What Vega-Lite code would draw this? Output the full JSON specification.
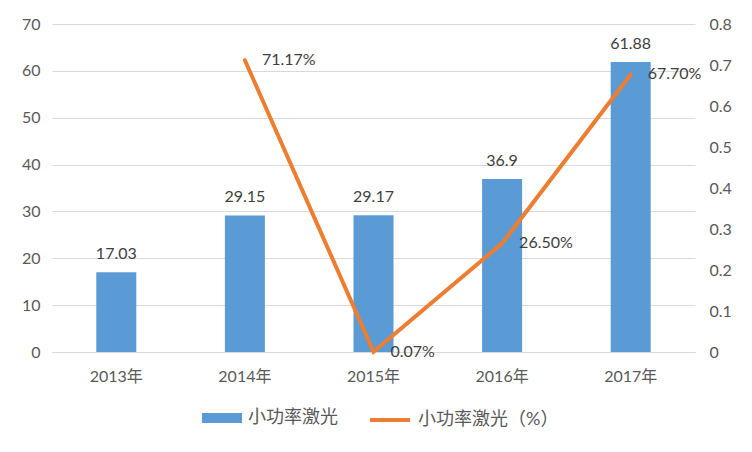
{
  "$schema": "https://vega.github.io/schema/vega-lite/v6.json",
  "autosize": "none",
  "width": 643,
  "height": 328,
  "padding": {"left": 52, "top": 24, "right": 57, "bottom": 100},
  "background": "white",
  "config": {
    "font": "Lato, 'Noto Sans CJK SC'",
    "view": {"stroke": null},
    "axis": {"labelFont": "Lato, 'Noto Sans CJK SC'", "labelFontSize": 16, "labelColor": "#595959", "ticks": false, "domain": false, "title": null},
    "legend": {"labelFont": "Lato, 'Noto Sans CJK SC'", "labelFontSize": 18, "labelColor": "#595959", "padding": 0}
  },
  "data": {
    "values": [
      {"year": "2013年", "value": 17.03, "pct": null},
      {"year": "2014年", "value": 29.15, "pct": 0.7117},
      {"year": "2015年", "value": 29.17, "pct": 0.0007},
      {"year": "2016年", "value": 36.9, "pct": 0.265},
      {"year": "2017年", "value": 61.88, "pct": 0.677}
    ]
  },
  "encoding": {
    "x": {
      "field": "year", "type": "nominal", "sort": null,
      "scale": {"paddingInner": 0, "paddingOuter": 0},
      "axis": {"labelAngle": 0, "domain": true, "domainColor": "#d9d9d9", "domainWidth": 1, "labelPadding": 16}
    }
  },
  "layer": [
    {
      "encoding": {
        "y": {
          "field": "value", "type": "quantitative",
          "scale": {"domain": [0, 70]},
          "axis": {"orient": "left", "values": [0, 10, 20, 30, 40, 50, 60, 70], "grid": true, "gridColor": "#d9d9d9", "gridWidth": 1, "labelPadding": 12}
        }
      },
      "layer": [
        {
          "mark": {"type": "bar", "size": 40},
          "encoding": {
            "fill": {
              "datum": "小功率激光",
              "scale": {"range": ["#5b9bd5"]},
              "legend": {
                "title": null, "orient": "none", "legendX": 150, "legendY": 374,
                "symbolType": "M-1,-0.25H1V0.25H-1Z", "symbolSize": 1600, "symbolStrokeWidth": 0, "labelOffset": 6
              }
            }
          }
        },
        {
          "mark": {"type": "text", "baseline": "bottom", "dy": -10, "fontSize": 16, "color": "#404040"},
          "encoding": {"text": {"field": "value", "type": "quantitative"}}
        }
      ]
    },
    {
      "encoding": {
        "y": {
          "field": "pct", "type": "quantitative",
          "scale": {"domain": [0, 0.8]},
          "axis": {"orient": "right", "values": [0, 0.1, 0.2, 0.3, 0.4, 0.5, 0.6, 0.7, 0.8], "format": "~g", "grid": false, "labelPadding": 14}
        }
      },
      "layer": [
        {
          "mark": {"type": "line", "strokeWidth": 4, "strokeCap": "round"},
          "encoding": {
            "stroke": {
              "datum": "小功率激光（%）",
              "scale": {"range": ["#ed7d31"]},
              "legend": {
                "title": null, "orient": "none", "legendX": 316, "legendY": 374,
                "symbolType": "stroke", "symbolSize": 1600, "symbolStrokeWidth": 4, "labelOffset": 6
              }
            }
          }
        },
        {
          "mark": {"type": "text", "align": "left", "baseline": "middle", "dx": 17, "fontSize": 16, "color": "#404040"},
          "encoding": {"text": {"field": "pct", "type": "quantitative", "format": ".2%"}}
        }
      ]
    }
  ],
  "resolve": {"scale": {"y": "independent", "fill": "independent", "stroke": "independent"}}
}
